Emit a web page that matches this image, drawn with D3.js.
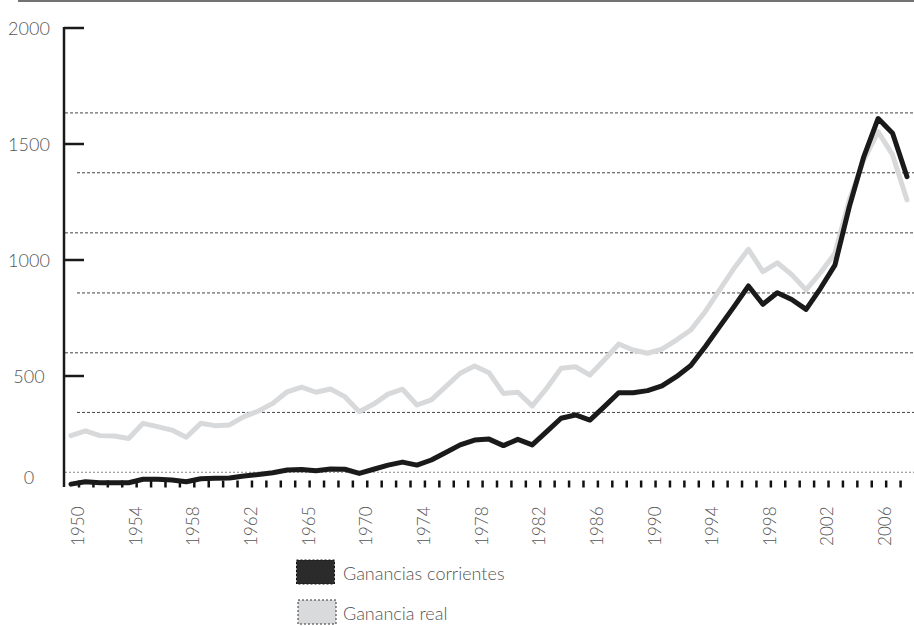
<!DOCTYPE html>
<html>
<head>
<meta charset="utf-8">
<script src="https://cdn.jsdelivr.net/npm/d3@7"></script>
<style>
  html, body { margin: 0; padding: 0; background: #fff; }
  svg { display: block; }
  text { font-family: "Lato", "Open Sans", "Liberation Sans", sans-serif; font-weight: 300; fill: #555; }
</style>
</head>
<body>
<svg id="chart" width="914" height="626"></svg>
<script>
// ---- data ----
const years = d3.range(1950, 2009);
const gananciasCorrientes = [
  34, 44, 40, 40, 40, 55, 55, 52, 44, 57,
  59, 60, 69, 75, 83, 95, 97, 92, 99, 98,
  80, 98, 116, 129, 116, 138, 170, 203, 224, 228,
  200, 227, 203, 260, 318, 332, 310, 368, 428, 428,
  437, 457, 497, 545, 626, 713, 799, 888, 809, 859,
  830, 787, 878, 978, 1230, 1445, 1610, 1546, 1359
];
const gananciaReal = [
  243, 263, 243, 241, 231, 296, 282, 267, 236, 296,
  286, 289, 325, 349, 382, 432, 452, 430, 444, 411,
  346, 379, 422, 443, 375, 397, 454, 512, 543, 514,
  425, 430, 371, 447, 533, 540, 504, 569, 638, 612,
  598, 616, 655, 698, 777, 871, 964, 1046, 950, 988,
  937, 871, 945, 1029, 1259, 1431, 1553, 1453, 1259
];
const yTicks = [0, 500, 1000, 1500, 2000];
const gridValues = [85, 343, 600, 858, 1117, 1376, 1634];
const xLabelYears = [1950, 1954, 1958, 1962, 1966, 1970, 1974, 1978, 1982, 1986, 1990, 1994, 1998, 2002, 2006];
const xLabelTexts = ["1950", "1954", "1958", "1962", "1965", "1970", "1974", "1978", "1982", "1986", "1990", "1994", "1998", "2002", "2006"];
const tickYears = d3.range(1950, 2008);
const seriesNames = ["Ganancias corrientes", "Ganancia real"];

// ---- layout ----
const svg = d3.select("#chart");
const x = d3.scaleLinear().domain([1950, 2008]).range([71, 907]);
const y = d3.scaleLinear().domain([0, 2000]).range([492, 28]);
const axisX = 64, axisBottom = 487;

// top rule
svg.append("line").attr("x1", 18).attr("x2", 914).attr("y1", 1).attr("y2", 1)
  .attr("stroke", "#444").attr("stroke-width", 1.5);

// grid lines
svg.append("g").selectAll("line").data(gridValues).join("line")
  .attr("x1", (d, i) => i % 2 === 0 ? axisX + 1 : axisX + 13)
  .attr("x2", 914)
  .attr("y1", d => y(d)).attr("y2", d => y(d))
  .attr("stroke", (d, i) => i === 0 ? "#888" : "#444")
  .attr("stroke-width", 1)
  .attr("stroke-dasharray", (d, i) => i === 0 ? "2,2" : "3,2");

// y axis
svg.append("line").attr("x1", axisX).attr("x2", axisX).attr("y1", y(2000) - 1).attr("y2", axisBottom)
  .attr("stroke", "#1a1a1a").attr("stroke-width", 2.5);
svg.append("g").selectAll("line").data(yTicks.filter(d => y(d) <= axisBottom)).join("line")
  .attr("x1", axisX).attr("x2", axisX + 20)
  .attr("y1", d => y(d)).attr("y2", d => y(d))
  .attr("stroke", "#1a1a1a").attr("stroke-width", 2.5);
svg.append("g").selectAll("text").data(yTicks).join("text")
  .attr("x", 29)
  .attr("y", d => Math.min(y(d), 477))
  .attr("text-anchor", "middle")
  .attr("dominant-baseline", "central")
  .style("font-size", "18px")
  .text(d => d);

// x ticks
svg.append("g").selectAll("line").data(tickYears).join("line")
  .attr("x1", d => x(d) + 8).attr("x2", d => x(d) + 8)
  .attr("y1", 480.5).attr("y2", 487.5)
  .attr("stroke", "#111").attr("stroke-width", 2.5);

// x labels
svg.append("g").selectAll("text").data(xLabelYears).join("text")
  .attr("transform", d => `translate(${x(d) + 7},506.5) rotate(-90)`)
  .attr("text-anchor", "end")
  .attr("dy", "0.35em")
  .style("font-size", "17px")
  .text((d, i) => xLabelTexts[i]);

// lines
const line = d3.line().x((d, i) => x(years[i])).y(d => y(d));
svg.append("path").datum(gananciaReal)
  .attr("d", line).attr("fill", "none")
  .attr("stroke", "#d8d9db").attr("stroke-width", 5)
  .attr("stroke-linejoin", "round").attr("stroke-linecap", "round");
svg.append("path").datum(gananciasCorrientes)
  .attr("d", line).attr("fill", "none")
  .attr("stroke", "#1a1a1a").attr("stroke-width", 5)
  .attr("stroke-linejoin", "round").attr("stroke-linecap", "round");

// legend
const legend = svg.append("g");
const legendFill = ["#2b2b2b", "#d9dadc"];
const legendStroke = ["#111", "#333"];
seriesNames.forEach((name, i) => {
  const top = 560 + i * 40;
  legend.append("rect")
    .attr("x", 296.5 + i * 1.5).attr("y", top).attr("width", 38).attr("height", 24)
    .attr("fill", legendFill[i]).attr("stroke", legendStroke[i])
    .attr("stroke-width", 1).attr("stroke-dasharray", "2,2");
  legend.append("text")
    .attr("x", 343).attr("y", top + 12.5)
    .attr("dominant-baseline", "central")
    .style("font-size", "18px")
    .text(name);
});
</script>
</body>
</html>
